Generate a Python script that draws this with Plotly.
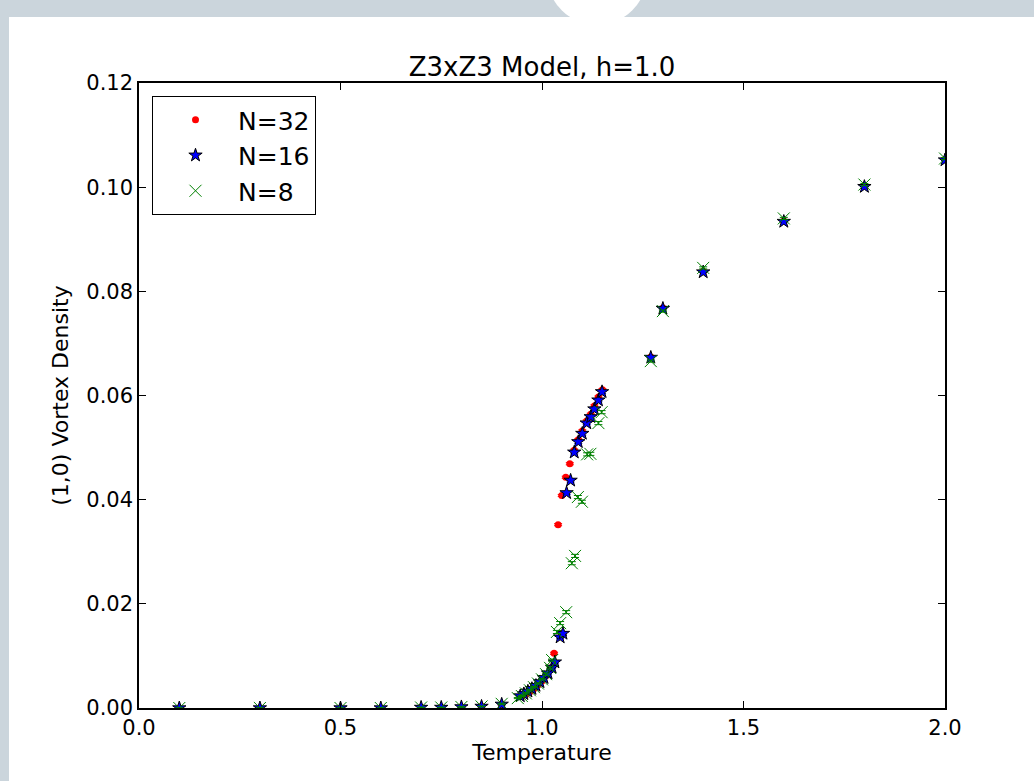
import plotly.graph_objects as go

# ---------------- data ----------------
t_n32 = [0.1, 0.3, 0.5, 0.6, 0.7, 0.75, 0.8, 0.85, 0.9,
         0.95, 0.96, 0.97, 0.98, 0.99, 1.0, 1.01, 1.022, 1.030,
         1.040, 1.049, 1.059, 1.069, 1.080, 1.090, 1.100, 1.111, 1.121, 1.130, 1.140, 1.150,
         1.27, 1.3, 1.4, 1.6, 1.8, 2.0]
v_n32 = [0.0, 0.0, 0.0, 0.0, 0.0001, 0.0001, 0.0002, 0.0003, 0.0007,
         0.0022, 0.0026, 0.0031, 0.0037, 0.0044, 0.0052, 0.0062, 0.0077, 0.0105,
         0.0352, 0.0408, 0.0443, 0.0469, 0.0495, 0.0515, 0.0532, 0.0551, 0.0564, 0.0580, 0.0597, 0.0611,
         0.0674, 0.0768, 0.0838, 0.0935, 0.1002, 0.1053]
e_n32 = [0.00005, 0.00005, 0.00005, 0.00005, 0.00005, 0.00005, 0.00005, 0.00005, 0.0001,
         0.0001, 0.0001, 0.0001, 0.0001, 0.0001, 0.0001, 0.0001, 0.0002, 0.0002,
         0.0002, 0.0002, 0.0002, 0.0002, 0.0002, 0.0002, 0.0002, 0.0002, 0.0002, 0.0002, 0.0002, 0.0002,
         0.0001, 0.0001, 0.0001, 0.0001, 0.0001, 0.0001]

t_n16 = [0.1, 0.3, 0.5, 0.6, 0.7, 0.75, 0.8, 0.85, 0.9,
         0.946, 0.955, 0.965, 0.975, 0.985, 0.995, 1.005, 1.015, 1.025, 1.032,
         1.045, 1.052, 1.061, 1.071, 1.080, 1.090, 1.100, 1.111, 1.121, 1.130, 1.140, 1.149,
         1.27, 1.3, 1.4, 1.6, 1.8, 2.0]
v_n16 = [0.0, 0.0, 0.0, 0.0, 0.0001, 0.0001, 0.0002, 0.0003, 0.0007,
         0.0023, 0.0027, 0.0032, 0.0037, 0.0043, 0.0050, 0.0058, 0.0067, 0.0078, 0.0088,
         0.0136, 0.0143, 0.0413, 0.0437, 0.0491, 0.0511, 0.0527, 0.0547, 0.0559, 0.0574, 0.0591, 0.0607,
         0.0673, 0.0767, 0.0837, 0.0934, 0.1001, 0.1052]
e_n16 = [0.00005, 0.00005, 0.00005, 0.00005, 0.00005, 0.00005, 0.00005, 0.00005, 0.0001,
         0.0001, 0.0001, 0.0001, 0.0001, 0.0001, 0.0001, 0.0001, 0.0002, 0.0002, 0.0002,
         0.0003, 0.0003, 0.0003, 0.0003, 0.0003, 0.0003, 0.0003, 0.0003, 0.0003, 0.0003, 0.0003, 0.0003,
         0.0001, 0.0001, 0.0001, 0.0001, 0.0001, 0.0001]

t_n8 = [0.1, 0.3, 0.5, 0.6, 0.7, 0.75, 0.8, 0.85, 0.9,
        0.94, 0.95, 0.96, 0.97, 0.98, 0.99, 1.0, 1.01, 1.02, 1.025,
        1.037, 1.045, 1.06, 1.074, 1.082, 1.089, 1.099, 1.112, 1.12, 1.14, 1.148,
        1.27, 1.3, 1.4, 1.6, 1.8, 2.0]
v_n8 = [0.0, 0.0, 0.0, 0.0, 0.0001, 0.0001, 0.0002, 0.0003, 0.0008,
        0.0019, 0.0023, 0.0028, 0.0034, 0.0040, 0.0047, 0.0055, 0.0065, 0.0077, 0.0092,
        0.0146, 0.0163, 0.0184, 0.0278, 0.0292, 0.0405, 0.0396, 0.0487, 0.0488, 0.0547, 0.0568,
        0.0666, 0.0762, 0.0845, 0.0940, 0.1005, 0.1055]
e_n8 = [0.00005, 0.00005, 0.00005, 0.00005, 0.00005, 0.00005, 0.00005, 0.00005, 0.0001,
        0.0001, 0.0001, 0.0001, 0.0001, 0.0001, 0.0001, 0.0001, 0.0002, 0.0002, 0.0002,
        0.0003, 0.0003, 0.0003, 0.0003, 0.0003, 0.0003, 0.0003, 0.0003, 0.0003, 0.0003, 0.0003,
        0.0002, 0.0002, 0.0002, 0.0002, 0.0002, 0.0002]

series_names = ["N=32", "N=16", "N=8"]
x_ticks = [0.0, 0.5, 1.0, 1.5, 2.0]
y_ticks = [0.00, 0.02, 0.04, 0.06, 0.08, 0.10, 0.12]

FONT = "DejaVu Sans"

# ---------------- figure ----------------
fig = go.Figure()

fig.add_trace(go.Scatter(
    x=t_n32, y=v_n32, name=series_names[0], mode="markers", legendgroup="a",
    marker=dict(symbol="circle", size=7, color="#ff0000", line=dict(color="#ff0000", width=0)),
    error_y=dict(type="data", array=e_n32, color="#ff0000", thickness=1, width=4),
))
fig.add_trace(go.Scatter(
    x=t_n16, y=v_n16, name=series_names[1], mode="markers", legendgroup="b",
    marker=dict(symbol="star", size=10, color="#0000ff", line=dict(color="#000000", width=1)),
    error_y=dict(type="data", array=e_n16, color="#0000ff", thickness=1, width=4),
))
fig.add_trace(go.Scatter(
    x=t_n8, y=v_n8, name=series_names[2], mode="markers", legendgroup="c",
    marker=dict(symbol="x-thin-open", size=12, color="#008000", line=dict(color="#008000", width=1)),
    error_y=dict(type="data", array=e_n8, color="#008000", thickness=1, width=4),
))

# page-like background: grey strips with white panel
L, R, T, B = 139, 945, 83, 708
W, H = 1034, 781
def px(xp):
    return (xp - L) / (R - L)
def py(yp):
    return (B - yp) / (B - T)

grey = "#cbd5dc"
shapes = [
    dict(type="rect", xref="paper", yref="paper", x0=px(-5), x1=px(W + 5), y0=py(-5), y1=py(H + 5),
         fillcolor=grey, line=dict(width=0), layer="below"),
    dict(type="rect", xref="paper", yref="paper", x0=px(9), x1=px(W + 5), y0=py(17), y1=py(H + 5),
         fillcolor="white", line=dict(width=0), layer="below"),
    dict(type="circle", xref="paper", yref="paper", x0=px(547), x1=px(647), y0=py(-75), y1=py(25),
         fillcolor="white", line=dict(width=0), layer="below"),
]

fig.update_layout(
    width=W, height=H,
    margin=dict(l=L, r=W - R, t=T, b=H - B, pad=0),
    paper_bgcolor="white", plot_bgcolor="white",
    font=dict(family=FONT, size=21, color="black"),
    title=dict(text="Z3xZ3 Model, h=1.0", x=(L + R) / 2 / W, xanchor="center",
               y=1 - 67 / H, yanchor="middle", font=dict(family=FONT, size=26, color="black")),
    shapes=shapes,
    showlegend=True,
    legend=dict(x=px(152), y=py(96), xanchor="left", yanchor="top",
                bgcolor="white", bordercolor="black", borderwidth=1,
                font=dict(family=FONT, size=25, color="black"),
                tracegroupgap=0, itemwidth=75),
    xaxis=dict(range=[0, 2], tickvals=x_ticks, ticktext=[f"{v:.1f}" for v in x_ticks],
               ticks="inside", ticklen=7, tickwidth=1, tickcolor="black",
               showline=True, linecolor="black", linewidth=1.5, mirror="allticks",
               showgrid=False, zeroline=False,
               title=dict(text="Temperature", standoff=0, font=dict(size=22)),
               tickfont=dict(size=21)),
    yaxis=dict(range=[0, 0.12], tickvals=y_ticks, ticktext=[f"{v:.2f}" for v in y_ticks],
               ticks="inside", ticklen=7, tickwidth=1, tickcolor="black",
               showline=True, linecolor="black", linewidth=1.5, mirror="allticks",
               showgrid=False, zeroline=False,
               title=dict(text="(1,0) Vortex Density", standoff=12, font=dict(size=22)),
               tickfont=dict(size=21)),
)

fig.write_html("out.html", config={"displayModeBar": False},
               post_script="document.body.style.margin='0px';document.body.style.overflow='hidden';")
